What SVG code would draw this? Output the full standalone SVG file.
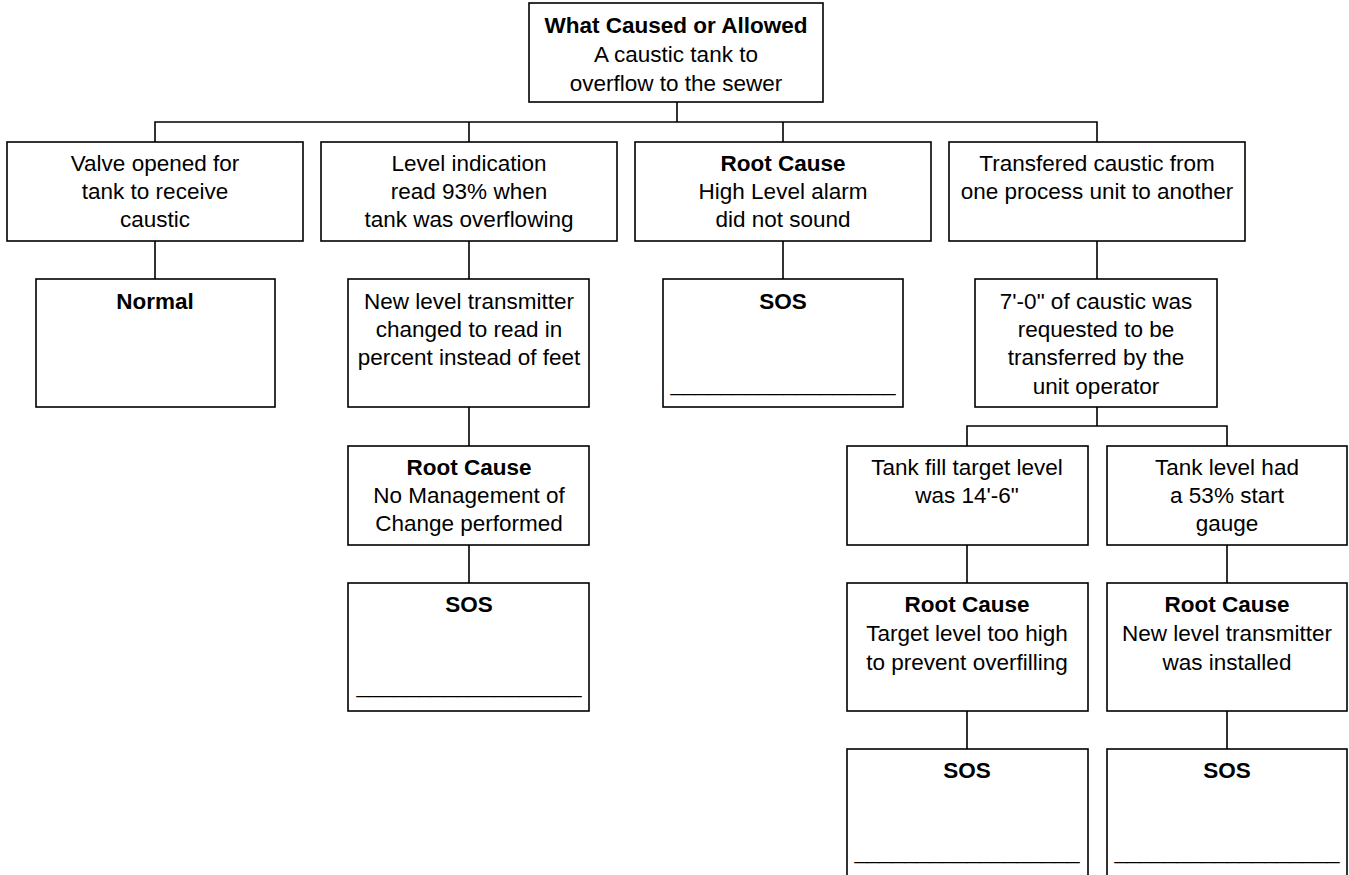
<svg xmlns="http://www.w3.org/2000/svg" width="1349" height="875" viewBox="0 0 1349 875">
<style>
.box{fill:#fff;stroke:#000;stroke-width:1.6}
.con{fill:none;stroke:#000;stroke-width:1.6}
text{font-family:"Liberation Sans",Arial,sans-serif;font-size:22.5px;fill:#000;text-anchor:middle}
.b{font-weight:bold}
</style>
<rect width="1349" height="875" fill="#fff"/>
<g id="connectors">
<path class="con" d="M677,102V122M155,142V122H1097V142M469,122V142M783,122V142"/>
<path class="con" d="M155,241V279M469,241V279M783,241V279M1097,241V279"/>
<path class="con" d="M469,407V446M469,545V583"/>
<path class="con" d="M1097,407V426M967,446V426H1227V446"/>
<path class="con" d="M967,545V583M1227,545V583M967,711V749M1227,711V749"/>
</g>
<g id="n-top">
<rect class="box" x="529" y="3" width="294" height="99"/>
<text x="676" y="33" class="b">What Caused or Allowed</text>
<text x="676" y="62">A caustic tank to</text>
<text x="676" y="91">overflow to the sewer</text>
</g>
<g id="n-valve">
<rect class="box" x="7" y="142" width="296" height="99"/>
<text x="155" y="171">Valve opened for</text>
<text x="155" y="199">tank to receive</text>
<text x="155" y="227">caustic</text>
</g>
<g id="n-levelind">
<rect class="box" x="321" y="142" width="296" height="99"/>
<text x="469" y="171">Level indication</text>
<text x="469" y="199">read 93% when</text>
<text x="469" y="227">tank was overflowing</text>
</g>
<g id="n-alarm">
<rect class="box" x="635" y="142" width="296" height="99"/>
<text x="783" y="171" class="b">Root Cause</text>
<text x="783" y="199">High Level alarm</text>
<text x="783" y="227">did not sound</text>
</g>
<g id="n-transfer">
<rect class="box" x="949" y="142" width="296" height="99"/>
<text x="1097" y="171">Transfered caustic from</text>
<text x="1097" y="199">one process unit to another</text>
</g>
<g id="n-normal">
<rect class="box" x="36" y="279" width="239" height="128"/>
<text x="155" y="309" class="b">Normal</text>
</g>
<g id="n-newlevel">
<rect class="box" x="348" y="279" width="241" height="128"/>
<text x="469" y="309">New level transmitter</text>
<text x="469" y="337">changed to read in</text>
<text x="469" y="365">percent instead of feet</text>
</g>
<g id="n-sos1">
<rect class="box" x="663" y="279" width="240" height="128"/>
<text x="783" y="309" class="b">SOS</text>
<text x="783" y="391">__________________</text>
</g>
<g id="n-request">
<rect class="box" x="975" y="279" width="242" height="128"/>
<text x="1096" y="309">7'-0" of caustic was</text>
<text x="1096" y="337">requested to be</text>
<text x="1096" y="365">transferred by the</text>
<text x="1096" y="394">unit operator</text>
</g>
<g id="n-moc">
<rect class="box" x="348" y="446" width="241" height="99"/>
<text x="469" y="475" class="b">Root Cause</text>
<text x="469" y="503">No Management of</text>
<text x="469" y="531">Change performed</text>
</g>
<g id="n-sos2">
<rect class="box" x="348" y="583" width="241" height="128"/>
<text x="469" y="612" class="b">SOS</text>
<text x="469" y="693">__________________</text>
</g>
<g id="n-target">
<rect class="box" x="847" y="446" width="241" height="99"/>
<text x="967" y="475">Tank fill target level</text>
<text x="967" y="503">was 14'-6"</text>
</g>
<g id="n-start">
<rect class="box" x="1107" y="446" width="240" height="99"/>
<text x="1227" y="475">Tank level had</text>
<text x="1227" y="503">a 53% start</text>
<text x="1227" y="531">gauge</text>
</g>
<g id="n-toohigh">
<rect class="box" x="847" y="583" width="241" height="128"/>
<text x="967" y="612" class="b">Root Cause</text>
<text x="967" y="641">Target level too high</text>
<text x="967" y="670">to prevent overfilling</text>
</g>
<g id="n-installed">
<rect class="box" x="1107" y="583" width="240" height="128"/>
<text x="1227" y="612" class="b">Root Cause</text>
<text x="1227" y="641">New level transmitter</text>
<text x="1227" y="670">was installed</text>
</g>
<g id="n-sos3">
<rect class="box" x="847" y="749" width="241" height="140"/>
<text x="967" y="778" class="b">SOS</text>
<text x="967" y="859">__________________</text>
</g>
<g id="n-sos4">
<rect class="box" x="1107" y="749" width="240" height="140"/>
<text x="1227" y="778" class="b">SOS</text>
<text x="1227" y="859">__________________</text>
</g>
</svg>
